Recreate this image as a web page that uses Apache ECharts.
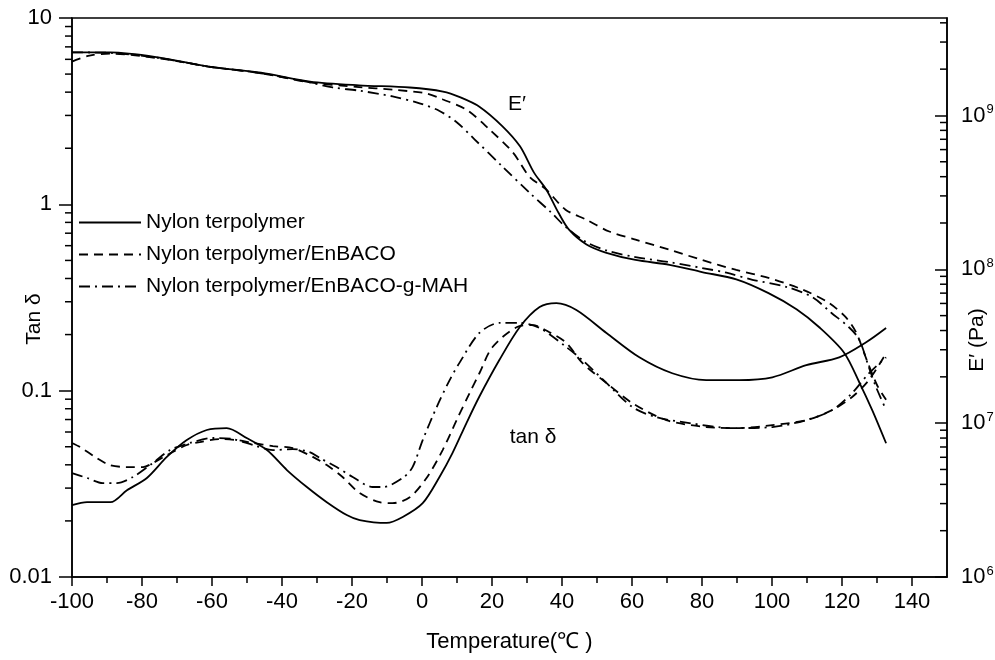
<!DOCTYPE html>
<html lang="en">
<head>
	<meta charset="UTF-8">
	<title>DMA nylon terpolymer</title>
	<style type="text/css">
	body{margin: 0;padding: 0;background: #fff;}
	#main{width: 995px;height: 660px;}
	</style>
</head>
<body>
	<div id="main"></div>
	<script src="https://cdn.jsdelivr.net/npm/echarts@6/dist/echarts.min.js"></script>
	<script>
		// tan delta, [temperature, value]
		var tanSolid = [[-100,0.0243],[-95.7,0.0252],[-89,0.0252],[-84.3,0.0292],[-78.6,0.034],[-72.9,0.0441],[-67.2,0.0543],[-61.5,0.0615],[-55.8,0.063],[-50.1,0.0557],[-44.3,0.048],[-38.6,0.0375],[-32.9,0.0304],[-27.2,0.0252],[-21.5,0.0215],[-17.8,0.0202],[-10.1,0.0195],[-5.5,0.021],[0.2,0.0249],[5,0.0344],[8.7,0.0462],[12.7,0.067],[16.4,0.093],[22.1,0.146],[27.9,0.219],[33.6,0.281],[38.4,0.295],[44.1,0.271],[52.7,0.204],[62.1,0.151],[71.5,0.124],[81.2,0.114],[90.6,0.114],[100.1,0.118],[109.8,0.137],[119.2,0.151],[126.9,0.182],[132.6,0.217]];
		var tanDash = [[-100,0.0524],[-97.7,0.0498],[-92.9,0.0435],[-89.2,0.0399],[-84.3,0.0389],[-79.7,0.0389],[-76.9,0.0409],[-72.9,0.0451],[-67.2,0.0511],[-63.5,0.053],[-57.8,0.055],[-52.9,0.0543],[-48.3,0.0524],[-42.6,0.0504],[-36.9,0.0492],[-31.2,0.0441],[-27.2,0.0399],[-22.7,0.0344],[-17.8,0.0282],[-12.1,0.0252],[-8.4,0.0249],[-3.5,0.0268],[1.3,0.034],[5.9,0.048],[9.9,0.0695],[13.6,0.0971],[16.4,0.124],[20.1,0.171],[27,0.219],[31.6,0.225],[36.4,0.206],[41.3,0.18],[45.8,0.141],[52.7,0.11],[60.1,0.0858],[69.8,0.0695],[81.2,0.0638],[90.6,0.063],[100.1,0.0654],[109.8,0.0695],[117.2,0.0787],[122.9,0.0925],[127.7,0.114],[132.6,0.159]];
		var tanDashDot = [[-100,0.0361],[-95.7,0.034],[-91.2,0.0319],[-87.2,0.0319],[-82.6,0.0344],[-76.9,0.0409],[-72,0.048],[-66.3,0.0524],[-59.8,0.0557],[-54.1,0.055],[-48.3,0.0511],[-42.6,0.048],[-36.9,0.0486],[-32.1,0.0468],[-29.2,0.0435],[-24.4,0.0389],[-19.8,0.0344],[-14.1,0.0304],[-11.2,0.0304],[-5.5,0.034],[-2.7,0.0389],[0.2,0.0543],[4.2,0.0817],[7.9,0.114],[10.7,0.141],[16.4,0.204],[22.1,0.231],[27.9,0.231],[33.6,0.217],[41.3,0.171],[45.8,0.146],[52.7,0.11],[60.1,0.0817],[66.9,0.0721],[76.4,0.067],[88.6,0.063],[100.1,0.0638],[109.8,0.0695],[117.2,0.0787],[122.9,0.0971],[127.7,0.124],[132.6,0.151]];

		// storage modulus E' (Pa)
		var eSolid = [[-100,2.57e9],[-89,2.57e9],[-75,2.38e9],[-61,2.08e9],[-46,1.9e9],[-32,1.66e9],[-18,1.57e9],[-3.5,1.52e9],[6,1.43e9],[11,1.31e9],[16.4,1.14e9],[23,8.5e8],[28,6.3e8],[32,4.25e8],[35.5,3.3e8],[39,2.33e8],[42,1.81e8],[47,1.45e8],[52.7,1.28e8],[61,1.15e8],[70.7,1.07e8],[80,9.6e7],[89.8,8.6e7],[99,7.0e7],[107,5.5e7],[113.5,4.2e7],[120.6,2.87e7],[125,1.83e7],[128.6,1.22e7],[132.6,7.4e6]];
		var eDash = [[-100,2.24e9],[-95,2.45e9],[-89,2.52e9],[-75,2.35e9],[-61,2.08e9],[-46,1.88e9],[-32,1.64e9],[-18,1.53e9],[-8.4,1.47e9],[1.3,1.39e9],[6,1.27e9],[12.7,1.09e9],[19.3,8.1e8],[26,5.74e8],[30.7,4.0e8],[35.5,3.3e8],[41,2.44e8],[47,2.1e8],[53.5,1.76e8],[61,1.56e8],[70.7,1.34e8],[80,1.15e8],[89.8,9.9e7],[99,8.8e7],[108.6,7.4e7],[116,6.1e7],[121,4.9e7],[124,3.9e7],[127,2.6e7],[130,1.77e7],[132.6,1.42e7]];
		var eDashDot = [[-100,2.57e9],[-89,2.55e9],[-75,2.36e9],[-61,2.08e9],[-46,1.88e9],[-32,1.64e9],[-25.5,1.52e9],[-18,1.45e9],[-8.4,1.33e9],[-0.7,1.2e9],[5,1.07e9],[10,9.0e8],[15,7.0e8],[23,4.65e8],[30.7,3.15e8],[37,2.33e8],[41,1.89e8],[47,1.5e8],[53,1.32e8],[61,1.2e8],[71,1.11e8],[80,1.02e8],[87,9.5e7],[94.4,8.55e7],[104,7.7e7],[111.5,6.6e7],[117,5.2e7],[122,4.2e7],[124.9,3.5e7],[127.7,2.3e7],[129.7,1.72e7],[132.6,1.22e7]];

		var names = ['Nylon terpolymer', 'Nylon terpolymer/EnBACO', 'Nylon terpolymer/EnBACO-g-MAH'];
		var lineTypes = ['solid', [9, 6], [11, 5, 2, 5]];

		// minor ticks (log axes get 2..9 x 10^n)
		var xMinor = [-90, -70, -50, -30, -10, 10, 30, 50, 70, 90, 110, 130];
		var tanMinor = [];
		var eMinor = [];
		[0.01, 0.1, 1].forEach(function(d){
			for(var k = 2; k <= 9; k++) tanMinor.push([-100, d * k]);
		});
		[1e6, 1e7, 1e8, 1e9].forEach(function(d){
			for(var k = 2; k <= 9; k++) if(d * k < 4.3e9) eMinor.push([150, d * k]);
		});

		var font = 'Liberation Sans, Arial, sans-serif';
		var myChart = echarts.init(document.getElementById('main'));

		function curve(name, data, type, yIdx){
			return {
				name: name,
				type: 'line',
				yAxisIndex: yIdx,
				data: data,
				symbol: 'none',
				smooth: 0.3,
				lineStyle: {color: '#000', width: 1.8, type: type},
				itemStyle: {color: '#000'},
				z: 3
			};
		}

		function tickSeries(data, yIdx, dx, dy){
			return {
				type: 'custom',
				name: 'ticks',
				xAxisIndex: 0,
				yAxisIndex: yIdx,
				data: data,
				clip: false,
				silent: true,
				renderItem: function(params, api){
					var p = api.coord([api.value(0), api.value(1)]);
					return {
						type: 'line',
						shape: {x1: p[0], y1: p[1], x2: p[0] + dx, y2: p[1] + dy},
						style: {stroke: '#000', lineWidth: 1.5}
					};
				}
			};
		}

		var series = [
			curve(names[0], eSolid, lineTypes[0], 1),
			curve(names[1], eDash, lineTypes[1], 1),
			curve(names[2], eDashDot, lineTypes[2], 1),
			curve(names[0], tanSolid, lineTypes[0], 0),
			curve(names[1], tanDash, lineTypes[1], 0),
			curve(names[2], tanDashDot, lineTypes[2], 0),
			tickSeries(tanMinor, 0, -7, 0),
			tickSeries(eMinor, 1, -7, 0),
			tickSeries(xMinor.map(function(t){ return [t, 0.01]; }), 0, 0, 6)
		];

		function label(text, x, y, rot){
			return {
				type: 'text', x: x, y: y, rotation: rot || 0,
				style: {text: text, font: '21px ' + font, fill: '#000', align: 'center', verticalAlign: 'middle'}
			};
		}

		var option = {
			animation: false,
			backgroundColor: '#fff',
			textStyle: {fontFamily: font, color: '#000'},
			grid: {left: 72, right: 48, top: 18, bottom: 83, outerBoundsMode: 'none', containLabel: false, show: true, borderColor: '#000', borderWidth: 1.5},
			legend: {
				data: names,
				orient: 'vertical',
				left: 73,
				top: 207,
				itemWidth: 62,
				itemHeight: 20,
				itemGap: 11,
				itemStyle: {opacity: 0},
				textStyle: {fontSize: 21, fontFamily: font, color: '#000'}
			},
			xAxis: {
				type: 'value',
				min: -100,
				max: 150,
				interval: 20,
				name: 'Temperature(℃ )',
				nameLocation: 'middle',
				nameGap: 54,
				nameMoveOverlap: false,
				nameTextStyle: {fontSize: 22, fontFamily: font, color: '#000'},
				axisLine: {onZero: false, lineStyle: {color: '#000', width: 1.5}},
				axisTick: {length: 9, lineStyle: {width: 1.5}},
				axisLabel: {fontSize: 22, margin: 14, color: '#000', showMaxLabel: false},
				splitLine: {show: false}
			},
			yAxis: [{
				type: 'log',
				logBase: 10,
				min: 0.01,
				max: 10,
				splitNumber: 3,
				axisLine: {onZero: false, lineStyle: {color: '#000', width: 1.5}},
				axisTick: {length: 13, lineStyle: {width: 1.5}},
				axisLabel: {fontSize: 22, margin: 20, color: '#000', formatter: function(v){ return String(+v.toPrecision(3)); }},
				splitLine: {show: false}
			}, {
				type: 'log',
				logBase: 10,
				min: 1e6,
				max: 4.3e9,
				splitNumber: 3,
				position: 'right',
				axisLine: {onZero: false, lineStyle: {color: '#000', width: 1.5}},
				axisTick: {inside: true, length: 12, lineStyle: {width: 1.5}},
				axisLabel: {
					margin: 14,
					showMaxLabel: false,
					formatter: function(v){
						return '{b|10}{s|' + Math.round(Math.log(v) / Math.LN10) + '}';
					},
					rich: {
						b: {fontSize: 22, fontFamily: font, color: '#000'},
						s: {fontSize: 13, fontFamily: font, color: '#000', padding: [0, 0, 12, 1]}
					}
				},
				splitLine: {show: false}
			}],
			graphic: [
				label('Tan δ', 34, 319, Math.PI / 2),
				label('E′ (Pa)', 977, 340, Math.PI / 2),
				label('E′', 517, 104),
				label('tan δ', 533, 437)
			],
			series: series
		};
		myChart.setOption(option);
	</script>
</body>
</html>
